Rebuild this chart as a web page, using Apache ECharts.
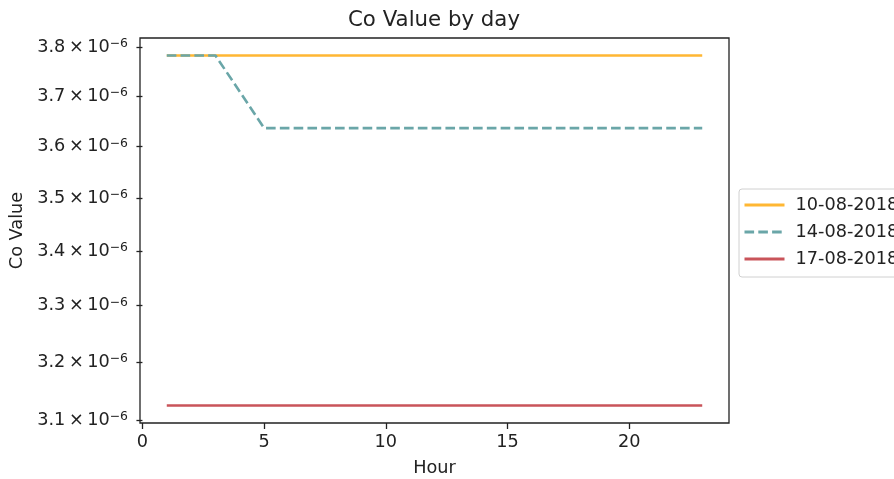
<!DOCTYPE html>
<html>
<head>
<meta charset="utf-8">
<title>Co Value by day</title>
<script src="https://cdn.jsdelivr.net/npm/echarts@6/dist/echarts.min.js"></script>
<style>
  html, body { margin: 0; padding: 0; background: #fff; }
  #chart { width: 894px; height: 479px; }
</style>
</head>
<body>
<div id="chart"></div>
<script>
// Hourly Co readings for three days
const hours = [1, 2, 3, 4, 5, 6, 7, 8, 9, 10, 11, 12, 13, 14, 15, 16, 17, 18, 19, 20, 21, 22, 23];
const day10 = [3.783e-6, 3.783e-6, 3.783e-6, 3.783e-6, 3.783e-6, 3.783e-6, 3.783e-6, 3.783e-6,
               3.783e-6, 3.783e-6, 3.783e-6, 3.783e-6, 3.783e-6, 3.783e-6, 3.783e-6, 3.783e-6,
               3.783e-6, 3.783e-6, 3.783e-6, 3.783e-6, 3.783e-6, 3.783e-6, 3.783e-6];
const day14 = [3.783e-6, 3.783e-6, 3.783e-6, 3.709e-6, 3.636e-6, 3.636e-6, 3.636e-6, 3.636e-6,
               3.636e-6, 3.636e-6, 3.636e-6, 3.636e-6, 3.636e-6, 3.636e-6, 3.636e-6, 3.636e-6,
               3.636e-6, 3.636e-6, 3.636e-6, 3.636e-6, 3.636e-6, 3.636e-6, 3.636e-6];
const day17 = [3.125e-6, 3.125e-6, 3.125e-6, 3.125e-6, 3.125e-6, 3.125e-6, 3.125e-6, 3.125e-6,
               3.125e-6, 3.125e-6, 3.125e-6, 3.125e-6, 3.125e-6, 3.125e-6, 3.125e-6, 3.125e-6,
               3.125e-6, 3.125e-6, 3.125e-6, 3.125e-6, 3.125e-6, 3.125e-6, 3.125e-6];
const seriesNames = ['10-08-2018', '14-08-2018', '17-08-2018'];
const xTicks = [0, 5, 10, 15, 20];
const yTicks = [3.1e-6, 3.2e-6, 3.3e-6, 3.4e-6, 3.5e-6, 3.6e-6, 3.7e-6, 3.8e-6];

const FONT = 'DejaVu Sans';
const INK = '#222';
const pairs = vals => hours.map((h, i) => [h, vals[i]]);

const chart = echarts.init(document.getElementById('chart'), null, { renderer: 'canvas' });

chart.setOption({
  backgroundColor: '#fff',
  animation: false,
  title: {
    text: 'Co Value by day',
    left: 348,
    top: 10,
    padding: 0,
    textStyle: { fontFamily: FONT, fontSize: 21.3, fontWeight: 'normal', color: INK }
  },
  legend: {
    orient: 'vertical',
    left: 739,
    top: 189,
    padding: [7, 12, 9, 4],
    itemWidth: 40,
    itemHeight: 14,
    itemGap: 9,
    borderColor: '#d0d0d0',
    borderWidth: 1,
    borderRadius: 3,
    backgroundColor: '#fff',
    data: seriesNames,
    itemStyle: { opacity: 0 },
    lineStyle: { width: 3 },
    textStyle: { fontFamily: FONT, fontSize: 17.7, color: INK, padding: [0, 0, 0, 6] }
  },
  grid: {
    left: 140,
    top: 38,
    width: 589,
    height: 385,
    show: true,
    borderColor: INK,
    borderWidth: 1.3,
    backgroundColor: '#fff',
    containLabel: false,
    outerBoundsMode: 'none'
  },
  xAxis: {
    type: 'value',
    min: -0.1,
    max: 24.1,
    name: 'Hour',
    nameLocation: 'middle',
    nameGap: 36,
    nameTextStyle: { fontFamily: FONT, fontSize: 17.7, color: INK },
    splitLine: { show: false },
    axisLine: { show: false },
    axisTick: { show: true, customValues: xTicks, length: 6, lineStyle: { color: INK, width: 1.3 } },
    axisLabel: {
      customValues: xTicks,
      margin: 10,
      fontFamily: FONT,
      fontSize: 17.7,
      color: INK
    }
  },
  yAxis: {
    type: 'log',
    logBase: 10,
    min: 3.0953e-6,
    max: 3.8193e-6,
    name: 'Co Value',
    nameLocation: 'middle',
    nameGap: 111,
    nameTextStyle: { fontFamily: FONT, fontSize: 17.7, color: INK },
    splitLine: { show: false },
    axisLine: { show: false },
    axisTick: { show: true, customValues: yTicks, length: 6, lineStyle: { color: INK, width: 1.3 } },
    axisLabel: {
      customValues: yTicks,
      margin: 12,
      formatter: v => '{m|' + (v * 1e6).toFixed(1) + '\u2009\u00d7\u200910}{s|\u22126}',
      rich: {
        m: { fontFamily: FONT, fontSize: 17.7, color: INK },
        s: { fontFamily: FONT, fontSize: 12.4, color: INK, verticalAlign: 'top' }
      }
    }
  },
  series: [
    {
      name: seriesNames[0],
      type: 'line',
      data: pairs(day10),
      symbol: 'none',
      lineStyle: { color: '#FFB733', width: 2.6 },
      itemStyle: { color: '#FFB733' }
    },
    {
      name: seriesNames[1],
      type: 'line',
      data: pairs(day14),
      symbol: 'none',
      lineStyle: { color: '#6AA6A8', width: 2.6, type: [9.6, 4.2] },
      itemStyle: { color: '#6AA6A8' }
    },
    {
      name: seriesNames[2],
      type: 'line',
      data: pairs(day17),
      symbol: 'none',
      lineStyle: { color: '#C9545A', width: 2.6 },
      itemStyle: { color: '#C9545A' }
    }
  ]
});
</script>
</body>
</html>
